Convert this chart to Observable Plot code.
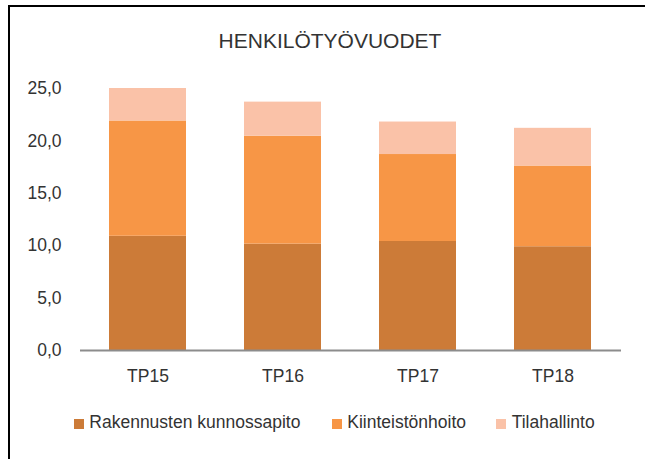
<!DOCTYPE html>
<html>
<head>
<meta charset="utf-8">
<script src="https://cdn.jsdelivr.net/npm/d3@7"></script>
<script src="https://cdn.jsdelivr.net/npm/@observablehq/plot@0.6"></script>
<style>
  html, body { margin: 0; padding: 0; background: #fff; }
  #wrap { position: relative; width: 645px; height: 459px; overflow: hidden; background: #fff;
          font-family: "Liberation Sans", Arial, sans-serif; color: #333; }
  #frame { position: absolute; left: 8px; top: 5px; width: 800px; height: 600px;
           border-left: 2.5px solid #000; border-top: 2.5px solid #000; }
  #title { position: absolute; left: 15px; width: 630px; top: 30px; text-align: center;
           font-size: 21px; line-height: 21px; color: #333; }
  #chart { position: absolute; left: 0; top: 60px; }
  .lg-sw { position: absolute; width: 10px; height: 10px; top: 419px; }
  .lg-tx { position: absolute; top: 414px; font-size: 17.5px; line-height: 17.5px; color: #333; white-space: nowrap; }
</style>
</head>
<body>
<div id="wrap">
  <div id="frame"></div>
  <div id="title">HENKILÖTYÖVUODET</div>
  <div id="chart"></div>
</div>
<script>
const categories = ["TP15", "TP16", "TP17", "TP18"];
const series = ["Rakennusten kunnossapito", "Kiinteistönhoito", "Tilahallinto"];
const colors = ["#cc7b38", "#f79646", "#fac2a8"];
const rakennusten = [10.9, 10.15, 10.4, 9.9];
const kiinteisto = [11.0, 10.3, 8.3, 7.7];
const tilahallinto = [3.1, 3.25, 3.1, 3.6];
const yTicks = [0, 5, 10, 15, 20, 25];

const valuesBySeries = [rakennusten, kiinteisto, tilahallinto];
const data = [];
series.forEach((s, i) => {
  categories.forEach((c, j) => data.push({cat: c, series: s, value: valuesBySeries[i][j]}));
});

const plot = Plot.plot({
  width: 645,
  height: 335,
  marginTop: 28,
  marginBottom: 45,
  marginLeft: 80,
  marginRight: 24,
  style: {fontFamily: "'Liberation Sans', Arial, sans-serif", fontSize: "17.5px", color: "#333", background: "transparent"},
  x: {domain: categories, paddingInner: 0.427, paddingOuter: 0.2135, label: null, tickSize: 0, tickPadding: 19},
  y: {domain: [0, 25], ticks: yTicks, label: null, tickSize: 0, tickPadding: 19,
      tickFormat: d => d.toFixed(1).replace(".", ",")},
  color: {domain: series, range: colors},
  marks: [
    Plot.barY(data, {x: "cat", y: "value", fill: "series", order: series}),
    Plot.ruleY([0], {stroke: "#8c8c8c", strokeWidth: 2})
  ]
});
document.getElementById("chart").appendChild(plot);

// legend
const wrap = document.getElementById("wrap");
const swatchX = [74, 331.5, 496];
const textX = [89.3, 347.3, 511.7];
series.forEach((s, i) => {
  const sw = document.createElement("div");
  sw.className = "lg-sw";
  sw.style.left = swatchX[i] + "px";
  sw.style.background = colors[i];
  wrap.appendChild(sw);
  const tx = document.createElement("div");
  tx.className = "lg-tx";
  tx.style.left = textX[i] + "px";
  tx.textContent = s;
  wrap.appendChild(tx);
});
</script>
</body>
</html>
